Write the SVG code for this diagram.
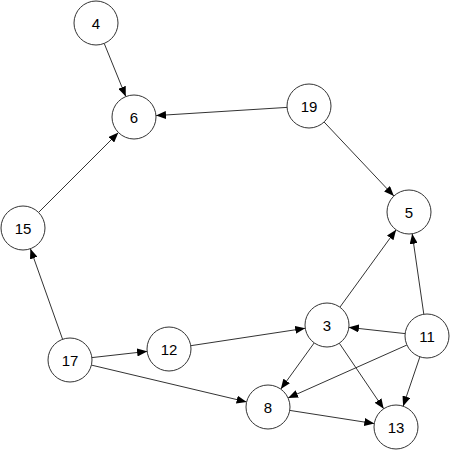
<svg xmlns="http://www.w3.org/2000/svg" width="450" height="450" viewBox="0 0 450 450">
<style>
.node circle{fill:#fff;stroke:#333;stroke-width:1}
.node text{font-family:"Liberation Sans",Arial,sans-serif;font-size:15px;fill:#000;text-anchor:middle;dominant-baseline:central}
.edges line{stroke:#333;stroke-width:1;marker-end:url(#arrow)}
</style>
<defs>
<marker id="arrow" markerUnits="userSpaceOnUse" markerWidth="10" markerHeight="8" refX="10" refY="4" orient="auto">
<path d="M0,0 L10,4 L0,8 z" fill="#000"/>
</marker>
</defs>
<rect width="450" height="450" fill="#fff"/>
<g id="edges" class="edges">
<line x1="104.2" y1="43.4" x2="125.8" y2="96.6"/>
<line x1="287.0" y1="107.4" x2="156.0" y2="115.6"/>
<line x1="38.6" y1="212.4" x2="118.4" y2="132.6"/>
<line x1="324.1" y1="122.0" x2="393.9" y2="196.0"/>
<line x1="62.6" y1="339.3" x2="30.4" y2="248.7"/>
<line x1="91.9" y1="357.6" x2="147.1" y2="351.4"/>
<line x1="91.4" y1="365.1" x2="246.6" y2="401.9"/>
<line x1="190.8" y1="345.7" x2="305.2" y2="328.3"/>
<line x1="339.9" y1="307.2" x2="396.1" y2="229.8"/>
<line x1="423.8" y1="314.2" x2="412.2" y2="233.8"/>
<line x1="405.1" y1="333.6" x2="348.9" y2="327.4"/>
<line x1="406.9" y1="345.0" x2="288.1" y2="398.0"/>
<line x1="419.9" y1="356.8" x2="403.1" y2="406.2"/>
<line x1="314.2" y1="342.9" x2="280.8" y2="389.1"/>
<line x1="339.3" y1="343.2" x2="383.7" y2="408.8"/>
<line x1="289.7" y1="410.4" x2="374.3" y2="423.6"/>
</g>
<g id="node4" class="node"><circle cx="96" cy="23" r="22"/><text x="96" y="23">4</text></g>
<g id="node6" class="node"><circle cx="134" cy="117" r="22"/><text x="134" y="117">6</text></g>
<g id="node19" class="node"><circle cx="309" cy="106" r="22"/><text x="309" y="106">19</text></g>
<g id="node5" class="node"><circle cx="409" cy="212" r="22"/><text x="409" y="212">5</text></g>
<g id="node15" class="node"><circle cx="23" cy="228" r="22"/><text x="23" y="228">15</text></g>
<g id="node17" class="node"><circle cx="70" cy="360" r="22"/><text x="70" y="360">17</text></g>
<g id="node12" class="node"><circle cx="169" cy="349" r="22"/><text x="169" y="349">12</text></g>
<g id="node3" class="node"><circle cx="327" cy="325" r="22"/><text x="327" y="325">3</text></g>
<g id="node11" class="node"><circle cx="427" cy="336" r="22"/><text x="427" y="336">11</text></g>
<g id="node8" class="node"><circle cx="268" cy="407" r="22"/><text x="268" y="407">8</text></g>
<g id="node13" class="node"><circle cx="396" cy="427" r="22"/><text x="396" y="427">13</text></g>
</svg>
